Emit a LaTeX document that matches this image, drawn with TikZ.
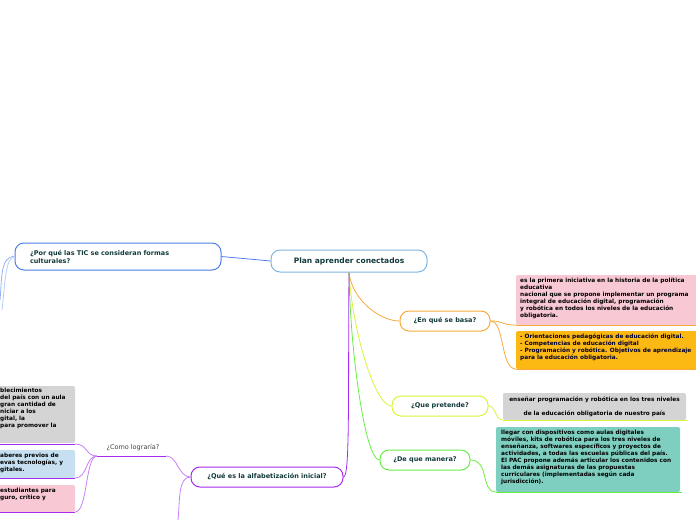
\documentclass[tikz,border=0pt]{standalone}
\usepackage{fontspec}
\setmainfont{DejaVu Sans}
\begin{document}
\begin{tikzpicture}[x=1pt,y=-1pt,
 topic/.style={draw,rounded corners=9pt,line width=1pt,fill=white,font=\bfseries\fontsize{6.5}{8}\selectfont,text=txt,inner sep=0pt},
 note/.style={anchor=north west,font=\bfseries\fontsize{5.8}{7}\selectfont,text=black,align=left,inner sep=0pt},
 con/.style={line width=0.8pt}]
\definecolor{txt}{HTML}{123A3A}
\definecolor{cblue}{HTML}{7FB6E0}
\definecolor{cblu2}{HTML}{4C7FE8}
\definecolor{corg}{HTML}{F7A93A}
\definecolor{cyel}{HTML}{D8F53A}
\definecolor{cgrn}{HTML}{66EE44}
\definecolor{cpur}{HTML}{A52BF0}
\definecolor{fpink}{HTML}{F8C8D4}
\definecolor{forg}{HTML}{FDB913}
\definecolor{fgrey}{HTML}{D4D4D4}
\definecolor{fteal}{HTML}{7FCFC0}
\definecolor{fltb}{HTML}{C6E0F2}
\useasboundingbox (0,0) rectangle (696,520);
\clip (0,0) rectangle (696,520);
% fills
\fill[fpink,rounded corners=2pt] (516,275) rectangle (700,325);
\draw[corg,line width=1pt] (516,325) -- (700,325);
\fill[forg,rounded corners=2pt] (516,331) rectangle (700,369);
\draw[corg,line width=1pt] (516,369) -- (700,369);
\fill[fgrey,rounded corners=2pt] (503,393) rectangle (686,420);
\draw[cyel,line width=1pt] (503,420) -- (688,420);
\fill[fteal,rounded corners=2pt] (496,427) rectangle (680,492);
\draw[cgrn,line width=1pt] (496,492) -- (682,492);
\fill[fgrey,rounded corners=2pt] (-5,386) rectangle (75,443);
\draw[cpur,line width=1pt] (-5,444) -- (75,444);
\fill[fltb,rounded corners=2pt] (-5,450) rectangle (75,478);
\draw[cpur,line width=1pt] (-5,478) -- (75,478);
\fill[fpink,rounded corners=2pt] (-5,485) rectangle (75,512);
\draw[cpur,line width=1pt] (-5,512) -- (75,512);
\draw[cpur,line width=1pt] (97,456) -- (166,456);
% notes
\node[note] (n1) at (520,278) {es la primera iniciativa en la historia de la política\\educativa\\nacional que se propone implementar un programa\\integral de educación digital, programación\\y robótica en todos los niveles de la educación\\obligatoria.};
\node[note,text=black!80!blue] (n2) at (520,334) {- Orientaciones pedagógicas de educación digital.\\- Competencias de educación digital\\- Programación y robótica. Objetivos de aprendizaje\\para la educación obligatoria.};
\node[note,align=center,font=\bfseries\fontsize{5.8}{14}\selectfont,anchor=center] (n3) at (594.5,406.5) {enseñar programación y robótica en los tres niveles\\de la educación obligatoria de nuestro país};
\node[note] (n4) at (501,430) {llegar con dispositivos como aulas digitales\\móviles, kits de robótica para los tres niveles de\\enseñanza, softwares específicos y proyectos de\\actividades, a todas las escuelas públicas del país.\\El PAC propone además articular los contenidos con\\las demás asignaturas de las propuestas\\curriculares (implementadas según cada\\jurisdicción).};
\node[note] (l1) at (0,388) {blecimientos\\del país con un aula\\gran cantidad de\\niciar a los\\gital, la\\para promover la};
\node[note] (l2) at (0,453) {aberes previos de\\evas tecnologías, y\\gitales.};
\node[note] (l3) at (0,488) {estudiantes para\\guro, crítico y};
\node[font=\fontsize{6.5}{8}\selectfont,text=black!75] (como) at (133,448) {¿Como lograría?};
% topics
\node[topic,draw=cblue,minimum width=156pt,minimum height=22pt,font=\bfseries\fontsize{7.5}{9}\selectfont] (root) at (349,261) {Plan aprender conectados};
\node[topic,draw=cblu2,minimum width=206pt,minimum height=27pt,align=left,text width=176pt] (tic) at (118,256.5) {¿Por qué las TIC se consideran formas\\culturales?};
\node[topic,draw=corg,minimum width=90pt,minimum height=20pt] (base) at (445,321) {¿En qué se basa?};
\node[topic,draw=cyel,minimum width=96pt,minimum height=20pt] (pret) at (440,406) {¿Que pretende?};
\node[topic,draw=cgrn,minimum width=90pt,minimum height=20pt] (man) at (425,460) {¿De que manera?};
\node[topic,draw=cpur,minimum width=152pt,minimum height=20pt] (alf) at (267,477) {¿Qué es la alfabetización inicial?};
\coordinate (e1) at (0,300);
\coordinate (e2) at (178,520);
% connectors
\draw[con,cblu2] (tic.east) -- (root.west);
\draw[con,cblu2!60] (tic.west) .. controls (0,256) and (2,280) .. (e1);
\draw[con,cblu2!40] (tic.west) .. controls (5,258) and (5,285) .. (2,310);
\draw[con,corg] (root.south) .. controls (352,300) and (380,321) .. (base.west);
\draw[con,corg] (base.east) .. controls (505,321) and (500,325) .. (516,325);
\draw[con,corg] (base.east) .. controls (505,321) and (500,369) .. (516,369);
\draw[con,cyel] (root.south) .. controls (352,330) and (375,406) .. (pret.west);
\draw[con,cyel] (pret.east) .. controls (496,406) and (495,420) .. (503,420);
\draw[con,cgrn] (root.south) .. controls (350,350) and (365,460) .. (man.west);
\draw[con,cgrn] (man.east) .. controls (490,460) and (480,492) .. (496,492);
\draw[con,cpur] (root.south) .. controls (348,400) and (350,477) .. (alf.east);
\draw[con,cpur!60] (alf.west) .. controls (178,477) and (178,456) .. (166,456);
\draw[con,cpur!60] (alf.west) .. controls (178,477) and (180,500) .. (e2);
\draw[con,cpur!60] (97,456) .. controls (85,456) and (88,444) .. (75,444);
\draw[con,cpur!60] (97,456) .. controls (85,456) and (88,478) .. (75,478);
\draw[con,cpur!60] (97,456) .. controls (85,456) and (88,512) .. (75,512);
\end{tikzpicture}
\end{document}
